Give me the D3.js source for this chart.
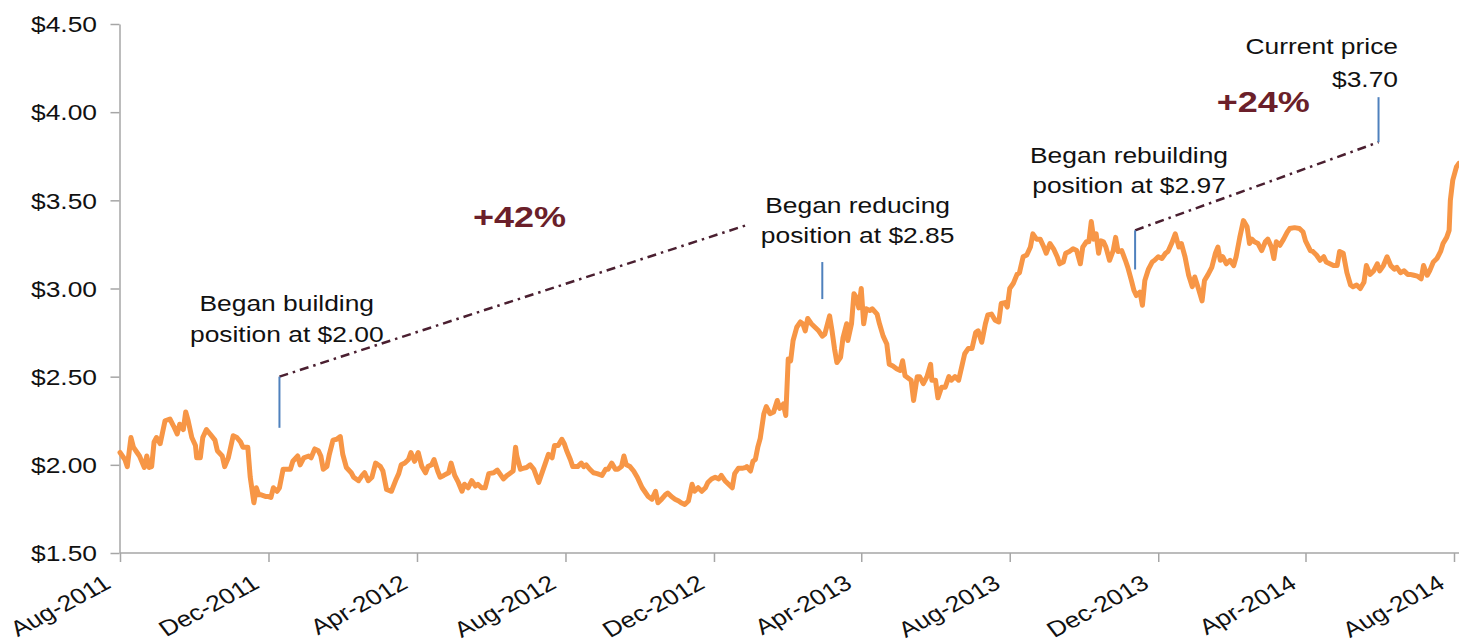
<!DOCTYPE html>
<html><head><meta charset="utf-8">
<script src="https://cdn.jsdelivr.net/npm/d3@7"></script>
<style>
body{margin:0;background:#fff}
svg{display:block}
text{font-family:"Liberation Sans",Arial,Helvetica,sans-serif}
</style>
</head><body>
<svg id="chart" width="1459" height="643"></svg>
<script>
// ---------------- data ----------------
const priceDates = [
"2011-08-01","2011-08-05","2011-08-07","2011-08-10","2011-08-12","2011-08-15","2011-08-17","2011-08-21","2011-08-23","2011-08-25",
"2011-08-27","2011-08-29","2011-08-31","2011-09-03","2011-09-07","2011-09-11","2011-09-14","2011-09-17","2011-09-19","2011-09-22",
"2011-09-24","2011-09-26","2011-09-29","2011-10-02","2011-10-03","2011-10-06","2011-10-08","2011-10-11","2011-10-14","2011-10-18",
"2011-10-20","2011-10-24","2011-10-26","2011-10-29","2011-11-02","2011-11-05","2011-11-08","2011-11-10","2011-11-14","2011-11-16",
"2011-11-19","2011-11-21","2011-11-23","2011-11-25","2011-11-29","2011-12-01","2011-12-03","2011-12-05","2011-12-08","2011-12-10",
"2011-12-13","2011-12-16","2011-12-19","2011-12-21","2011-12-25","2011-12-27","2011-12-30","2012-01-03","2012-01-05","2012-01-08",
"2012-01-11","2012-01-13","2012-01-15","2012-01-18","2012-01-20","2012-01-23","2012-01-26","2012-01-29","2012-01-31","2012-02-03",
"2012-02-07","2012-02-09","2012-02-13","2012-02-16","2012-02-18","2012-02-21","2012-02-24","2012-02-27","2012-03-02","2012-03-04",
"2012-03-07","2012-03-11","2012-03-15","2012-03-17","2012-03-19","2012-03-22","2012-03-25","2012-03-27","2012-03-30","2012-04-02",
"2012-04-05","2012-04-08","2012-04-10","2012-04-13","2012-04-15","2012-04-18","2012-04-20","2012-04-23","2012-04-27","2012-04-29",
"2012-05-02","2012-05-05","2012-05-08","2012-05-10","2012-05-13","2012-05-16","2012-05-19","2012-05-21","2012-05-24","2012-05-27",
"2012-05-30","2012-06-03","2012-06-06","2012-06-08","2012-06-11","2012-06-14","2012-06-16","2012-06-19","2012-06-21","2012-06-22",
"2012-06-25","2012-06-27","2012-06-30","2012-07-03","2012-07-06","2012-07-10","2012-07-12","2012-07-15","2012-07-18","2012-07-21",
"2012-07-23","2012-07-26","2012-07-29","2012-07-31","2012-08-02","2012-08-05","2012-08-07","2012-08-11","2012-08-14","2012-08-16",
"2012-08-18","2012-08-21","2012-08-24","2012-08-27","2012-08-31","2012-09-03","2012-09-05","2012-09-08","2012-09-11","2012-09-13",
"2012-09-16","2012-09-18","2012-09-20","2012-09-23","2012-09-26","2012-09-29","2012-10-03","2012-10-05","2012-10-08","2012-10-11",
"2012-10-14","2012-10-16","2012-10-19","2012-10-22","2012-10-24","2012-10-27","2012-10-30","2012-11-02","2012-11-04","2012-11-07",
"2012-11-10","2012-11-13","2012-11-15","2012-11-18","2012-11-21","2012-11-24","2012-11-26","2012-11-29","2012-12-02","2012-12-05",
"2012-12-07","2012-12-10","2012-12-13","2012-12-16","2012-12-18","2012-12-21","2012-12-24","2012-12-27","2012-12-28","2012-12-31",
"2013-01-02","2013-01-04","2013-01-06","2013-01-08","2013-01-11","2013-01-13","2013-01-16","2013-01-19","2013-01-22","2013-01-24",
"2013-01-27","2013-01-29","2013-01-31","2013-02-02","2013-02-04","2013-02-07","2013-02-10","2013-02-12","2013-02-14","2013-02-16",
"2013-02-19","2013-02-22","2013-02-25","2013-02-28","2013-03-02","2013-03-06","2013-03-08","2013-03-10","2013-03-12","2013-03-15",
"2013-03-17","2013-03-20","2013-03-21","2013-03-24","2013-03-26","2013-03-28","2013-03-30","2013-04-01","2013-04-03","2013-04-05",
"2013-04-08","2013-04-10","2013-04-14","2013-04-16","2013-04-19","2013-04-22","2013-04-24","2013-04-27","2013-04-30","2013-05-03",
"2013-05-05","2013-05-07","2013-05-10","2013-05-12","2013-05-14","2013-05-17","2013-05-19","2013-05-22","2013-05-25","2013-05-28",
"2013-05-29","2013-06-01","2013-06-03","2013-06-06","2013-06-09","2013-06-12","2013-06-14","2013-06-17","2013-06-20","2013-06-23",
"2013-06-25","2013-06-28","2013-07-01","2013-07-04","2013-07-06","2013-07-09","2013-07-12","2013-07-14","2013-07-17","2013-07-20",
"2013-07-23","2013-07-25","2013-07-28","2013-07-30","2013-08-01","2013-08-04","2013-08-07","2013-08-09","2013-08-12","2013-08-15",
"2013-08-18","2013-08-20","2013-08-23","2013-08-26","2013-08-29","2013-08-31","2013-09-03","2013-09-06","2013-09-09","2013-09-11",
"2013-09-14","2013-09-16","2013-09-19","2013-09-22","2013-09-25","2013-09-28","2013-09-30","2013-10-03","2013-10-05","2013-10-07",
"2013-10-09","2013-10-11","2013-10-13","2013-10-15","2013-10-17","2013-10-19","2013-10-22","2013-10-25","2013-10-27","2013-10-29",
"2013-11-01","2013-11-04","2013-11-06","2013-11-09","2013-11-11","2013-11-13","2013-11-16","2013-11-18","2013-11-20","2013-11-23",
"2013-11-26","2013-11-28","2013-12-01","2013-12-04","2013-12-07","2013-12-09","2013-12-12","2013-12-15","2013-12-18","2013-12-20",
"2013-12-23","2013-12-26","2013-12-29","2013-12-31","2014-01-03","2014-01-06","2014-01-08","2014-01-11","2014-01-14","2014-01-17",
"2014-01-19","2014-01-21","2014-01-23","2014-01-26","2014-01-29","2014-02-01","2014-02-03","2014-02-06","2014-02-09","2014-02-12",
"2014-02-14","2014-02-16","2014-02-18","2014-02-21","2014-02-24","2014-02-27","2014-03-01","2014-03-04","2014-03-06","2014-03-08",
"2014-03-11","2014-03-14","2014-03-17","2014-03-19","2014-03-23","2014-03-27","2014-03-30","2014-04-01","2014-04-05","2014-04-07",
"2014-04-10","2014-04-13","2014-04-16","2014-04-18","2014-04-21","2014-04-24","2014-04-27","2014-04-29","2014-05-02","2014-05-05",
"2014-05-08","2014-05-10","2014-05-13","2014-05-16","2014-05-19","2014-05-21","2014-05-24","2014-05-27","2014-05-30","2014-06-01",
"2014-06-04","2014-06-07","2014-06-10","2014-06-13","2014-06-15","2014-06-18","2014-06-21","2014-06-24","2014-06-26","2014-06-29",
"2014-07-02","2014-07-05","2014-07-07","2014-07-10","2014-07-12","2014-07-15","2014-07-18","2014-07-21","2014-07-23","2014-07-26",
"2014-07-28","2014-07-29","2014-07-31","2014-08-03","2014-08-05"
];
const priceValues = [
2.07,2.03,1.99,2.155,2.10,2.07,2.05,1.985,2.05,1.985,
1.99,2.13,2.155,2.12,2.25,2.26,2.22,2.175,2.23,2.20,
2.30,2.25,2.155,2.11,2.04,2.04,2.155,2.20,2.175,2.14,
2.08,2.05,1.99,2.04,2.165,2.155,2.13,2.10,2.10,1.93,
1.785,1.87,1.83,1.83,1.82,1.82,1.815,1.87,1.85,1.87,
1.975,1.975,1.975,2.02,2.05,2.00,2.04,2.05,2.04,2.09,
2.08,2.05,1.975,1.99,2.06,2.14,2.145,2.16,2.06,1.985,
1.955,1.93,1.91,1.94,1.955,1.91,1.93,2.01,1.99,1.965,
1.86,1.85,1.92,1.95,2.00,2.01,2.03,2.07,2.02,2.07,
1.99,1.955,1.99,2.00,2.03,1.965,1.93,1.94,1.955,2.01,
1.94,1.90,1.85,1.89,1.87,1.91,1.88,1.89,1.87,1.87,
1.95,1.955,1.97,1.95,1.92,1.94,1.95,1.965,2.10,2.05,
1.975,1.98,1.985,2.00,1.975,1.90,1.94,2.00,2.06,2.04,
2.11,2.11,2.145,2.12,2.08,2.03,1.99,1.99,2.01,1.99,
2.00,1.975,1.955,1.95,1.94,1.975,1.975,2.01,1.975,1.975,
1.99,2.05,2.00,1.99,1.965,1.93,1.87,1.85,1.82,1.805,
1.85,1.785,1.805,1.83,1.84,1.82,1.805,1.795,1.785,1.775,
1.795,1.89,1.85,1.87,1.85,1.87,1.90,1.92,1.93,1.92,
1.94,1.91,1.89,1.87,1.95,1.98,1.98,1.985,1.99,1.965,
2.02,2.03,2.10,2.15,2.29,2.33,2.29,2.30,2.365,2.32,
2.345,2.28,2.60,2.59,2.705,2.78,2.81,2.80,2.76,2.83,
2.80,2.78,2.76,2.73,2.74,2.845,2.76,2.66,2.58,2.61,
2.72,2.80,2.705,2.80,2.97,2.95,2.89,3.00,2.80,2.885,
2.875,2.885,2.855,2.80,2.73,2.685,2.57,2.56,2.545,2.535,
2.59,2.505,2.49,2.48,2.365,2.50,2.50,2.46,2.50,2.57,
2.48,2.48,2.38,2.44,2.44,2.50,2.48,2.50,2.48,2.57,
2.63,2.66,2.66,2.75,2.76,2.695,2.80,2.85,2.855,2.82,
2.81,2.915,2.92,2.895,3.00,3.03,3.08,3.09,3.18,3.19,
3.235,3.31,3.28,3.28,3.235,3.20,3.255,3.225,3.18,3.14,
3.15,3.20,3.21,3.225,3.215,3.14,3.235,3.265,3.265,3.38,
3.28,3.31,3.20,3.27,3.265,3.235,3.16,3.215,3.29,3.21,
3.215,3.16,3.12,3.045,2.99,2.96,2.98,2.905,3.045,3.11,
3.15,3.16,3.18,3.17,3.20,3.21,3.255,3.31,3.235,3.255,
3.18,3.075,3.01,3.065,3.00,2.93,3.045,3.08,3.12,3.20,
3.235,3.16,3.18,3.14,3.16,3.13,3.18,3.29,3.385,3.35,
3.255,3.28,3.265,3.255,3.215,3.265,3.28,3.235,3.17,3.265,
3.245,3.28,3.32,3.34,3.345,3.34,3.32,3.27,3.215,3.21,
3.19,3.16,3.18,3.15,3.14,3.13,3.13,3.21,3.20,3.09,
3.02,3.01,3.02,3.00,3.035,3.13,3.08,3.10,3.14,3.10,
3.13,3.18,3.13,3.11,3.12,3.09,3.10,3.08,3.08,3.075,
3.07,3.055,3.13,3.075,3.10,3.15,3.17,3.21,3.255,3.29,
3.33,3.50,3.615,3.69,3.71
];

const xTickDates = ["2011-08-01","2011-12-01","2012-04-01","2012-08-01","2012-12-01","2013-04-01","2013-08-01","2013-12-01","2014-04-01","2014-08-01"];
const yTickValues = [1.5, 2.0, 2.5, 3.0, 3.5, 4.0, 4.5];

// position markers (blue ticks): date, top value, bottom value
const markerDates   = ["2011-12-10","2013-02-28","2013-11-12","2014-05-31"];
const markerTops    = [2.50, 3.15, 3.33, 4.085];
const markerBottoms = [2.21, 2.94, 3.108, 3.83];

// dash-dot trend lines: start/end date and value
const trendStartDates  = ["2011-12-10","2013-11-12"];
const trendStartValues = [2.50, 3.33];
const trendEndDates    = ["2012-12-28","2014-05-31"];
const trendEndValues   = [3.36, 3.83];

// note labels: two lines each, anchored at a date / value
const noteLine1  = ["Began building","Began reducing","Began rebuilding","Current price"];
const noteLine2  = ["position at $2.00","position at $2.85","position at $2.97","$3.70"];
const noteDates  = ["2011-12-16","2013-03-29","2013-11-07","2014-06-16"];
const noteValues = [2.87, 3.43, 3.71, 4.33];
const noteAnchor = ["middle","middle","middle","end"];
const noteGap    = [30.5, 30, 30, 33];

// gain labels
const gainTexts  = ["+42%","+24%"];
const gainDates  = ["2012-05-17","2014-01-18"];
const gainValues = [3.35, 4.00];

// ---------------- chart ----------------
const W = 1459, H = 643;
const parse = d3.timeParse("%Y-%m-%d");
const svg = d3.select("#chart");
svg.append("rect").attr("width", W).attr("height", H).attr("fill", "#fff");

const x = d3.scaleTime()
  .domain([parse("2011-08-01"), parse("2014-08-01")])
  .range([120, 1454]);
const y = d3.scaleLinear().domain([1.5, 4.5]).range([553, 24]);

const SX = 1.2; // horizontal text stretch of the original picture
const axisColor = "#a6a6a6";

// Y axis
const gy = svg.append("g").attr("transform", "translate(119.5,0)")
  .call(d3.axisLeft(y).tickValues(yTickValues).tickSize(9).tickSizeOuter(0)
        .tickFormat(d3.format("$.2f")));
gy.select(".domain").attr("stroke", axisColor).attr("stroke-width", 1.5);
gy.selectAll(".tick line").attr("stroke", axisColor).attr("stroke-width", 1.5);
gy.selectAll(".tick text")
  .attr("x", -22.5 / SX).attr("dy", "0.35em")
  .attr("transform", `scale(${SX},1)`)
  .attr("font-size", 22).attr("fill", "#111")
  .attr("font-family", '"Liberation Sans", Arial, sans-serif');

// X axis
const gx = svg.append("g").attr("transform", "translate(0,553)")
  .call(d3.axisBottom(x).tickValues(xTickDates.map(parse)).tickSize(9).tickSizeOuter(0)
        .tickFormat(d3.timeFormat("%b-%Y")));
gx.select(".domain").remove();
gx.append("line").attr("x1", x.range()[0]).attr("x2", W).attr("y1", 0).attr("y2", 0)
  .attr("stroke", axisColor).attr("stroke-width", 1.5);
gx.selectAll(".tick line").attr("stroke", axisColor).attr("stroke-width", 1.5);
gx.selectAll(".tick text")
  .attr("x", null).attr("y", null).attr("dy", null)
  .attr("text-anchor", "end")
  .attr("transform", `translate(-8,34) scale(${SX},1) rotate(-32.5)`)
  .attr("font-size", 22).attr("fill", "#111")
  .attr("font-family", '"Liberation Sans", Arial, sans-serif');

// price line
const series = priceDates.map((d, i) => ({ date: parse(d), value: priceValues[i] }));
svg.append("path").datum(series)
  .attr("fill", "none").attr("stroke", "#f79646").attr("stroke-width", 5)
  .attr("stroke-linejoin", "round").attr("stroke-linecap", "round")
  .attr("d", d3.line().x(d => x(d.date)).y(d => y(d.value)));

// dash-dot trend lines
svg.append("g").selectAll("line").data(trendStartDates).join("line")
  .attr("x1", (d, i) => x(parse(d))).attr("y1", (d, i) => y(trendStartValues[i]))
  .attr("x2", (d, i) => x(parse(trendEndDates[i]))).attr("y2", (d, i) => y(trendEndValues[i]))
  .attr("stroke", "#4a1f30").attr("stroke-width", 2.5)
  .attr("stroke-dasharray", "9,5,2.5,5");

// blue markers
svg.append("g").selectAll("line").data(markerDates).join("line")
  .attr("x1", d => x(parse(d))).attr("x2", d => x(parse(d)))
  .attr("y1", (d, i) => y(markerTops[i])).attr("y2", (d, i) => y(markerBottoms[i]))
  .attr("stroke", "#4f81bd").attr("stroke-width", 2);

// notes
const notes = svg.append("g").selectAll("g").data(noteLine1).join("g")
  .attr("transform", (d, i) => `translate(${x(parse(noteDates[i]))},${y(noteValues[i])})`);
notes.append("text")
  .attr("transform", `scale(${SX},1)`)
  .attr("text-anchor", (d, i) => noteAnchor[i])
  .attr("font-size", 22).attr("fill", "#111")
  .text(d => d);
notes.append("text")
  .attr("transform", (d, i) => `translate(0,${noteGap[i]}) scale(${SX},1)`)
  .attr("text-anchor", (d, i) => noteAnchor[i])
  .attr("font-size", 22).attr("fill", "#111")
  .text((d, i) => noteLine2[i]);

// gains
svg.append("g").selectAll("text").data(gainTexts).join("text")
  .attr("transform", (d, i) => `translate(${x(parse(gainDates[i]))},${y(gainValues[i])}) scale(${SX},1)`)
  .attr("font-size", 30).attr("font-weight", "bold").attr("fill", "#6b1f2a")
  .text(d => d);
</script>
</body></html>
